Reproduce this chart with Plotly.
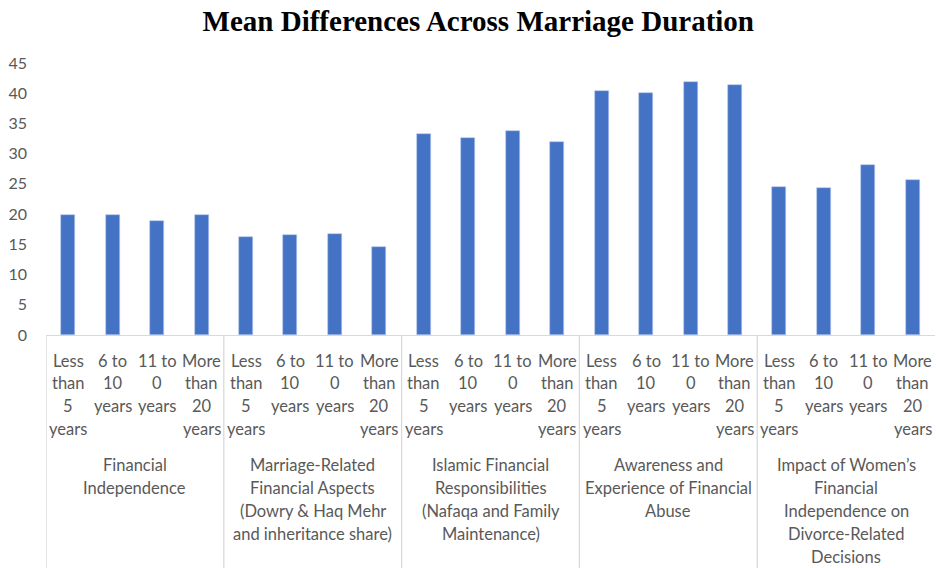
import plotly.graph_objects as go

# ---- data ----
groups = [
    "Financial<br>Independence",
    "Marriage-Related<br>Financial Aspects<br>(Dowry & Haq Mehr<br>and inheritance share)",
    "Islamic Financial<br>Responsibilities<br>(Nafaqa and Family<br>Maintenance)",
    "Awareness and<br>Experience of Financial<br>Abuse",
    "Impact of Women’s<br>Financial<br>Independence on<br>Divorce-Related<br>Decisions",
]
durations = [
    "Less<br>than<br>5<br>years",
    "6 to<br>10<br>years",
    "11 to<br>0<br>years",
    "More<br>than<br>20<br>years",
]
financial_independence = [19.8, 19.8, 18.8, 19.8]
marriage_related = [16.2, 16.5, 16.7, 14.6]
islamic_responsibilities = [33.3, 32.6, 33.8, 32.0]
financial_abuse = [40.3, 40.0, 41.9, 41.4]
divorce_decisions = [24.5, 24.3, 28.1, 25.6]
y_ticks = [0, 5, 10, 15, 20, 25, 30, 35, 40, 45]

series = [financial_independence, marriage_related, islamic_responsibilities,
          financial_abuse, divorce_decisions]

xs, ys = [], []
for gi, vals in enumerate(series):
    for di, v in enumerate(vals):
        xs.append(gi * len(durations) + di)
        ys.append(v)

GRAY = "#595959"
LINE = "#d9d9d9"
FONT = "Lato, 'Noto Sans', sans-serif"

fig = go.Figure(go.Bar(
    x=xs, y=ys, width=0.315,
    marker=dict(color="#4472c4", line=dict(color="#b4c7e7", width=0.6)),
))

annotations = []
# inner tick labels (one annotation per line for Excel-like line spacing)
for gi in range(len(groups)):
    for di, lab in enumerate(durations):
        for li, line in enumerate(lab.split("<br>")):
            annotations.append(dict(
                x=gi * len(durations) + di, xref="x", y=0, yref="paper",
                text=line, showarrow=False, yanchor="middle",
                yshift=-(25.5 + 22.8 * li),
                font=dict(family=FONT, size=16.5, color=GRAY),
            ))
# group labels
for gi, lab in enumerate(groups):
    for li, line in enumerate(lab.split("<br>")):
        annotations.append(dict(
            x=gi * len(durations) + 1.5, xref="x", y=0, yref="paper",
            text=line, showarrow=False, yanchor="middle",
            yshift=-(130 + 23.1 * li),
            font=dict(family=FONT, size=16.5, color=GRAY),
        ))

shapes = []
for gi in range(len(groups)):
    shapes.append(dict(
        type="line", xref="x", yref="paper",
        x0=gi * len(durations) - 0.5, x1=gi * len(durations) - 0.5,
        y0=0, y1=-0.86, line=dict(color=LINE, width=1.3),
    ))

fig.update_layout(
    width=936, height=568,
    margin=dict(l=46, r=1, t=63, b=233),
    paper_bgcolor="white", plot_bgcolor="white",
    showlegend=False,
    title=dict(
        text="<b>Mean Differences Across Marriage Duration</b>",
        x=0.511, xanchor="center", y=0.963, yanchor="middle",
        font=dict(family="'Liberation Serif', 'Times New Roman', serif",
                  size=29, color="black"),
    ),
    xaxis=dict(
        range=[-0.5, 19.5], showticklabels=False, showgrid=False,
        zeroline=False, showline=True, linecolor=LINE, linewidth=1.3,
        ticks="",
    ),
    yaxis=dict(
        range=[0, 45], tickvals=y_ticks, showgrid=False, zeroline=False,
        showline=False, ticks="", ticklabelstandoff=18,
        tickfont=dict(family=FONT, size=16, color=GRAY),
    ),
    annotations=annotations,
    shapes=shapes,
    bargap=0,
)

fig.write_html(
    "out.html",
    config={"displayModeBar": False},
    post_script="document.body.style.margin='0';document.body.style.overflow='hidden';",
)
